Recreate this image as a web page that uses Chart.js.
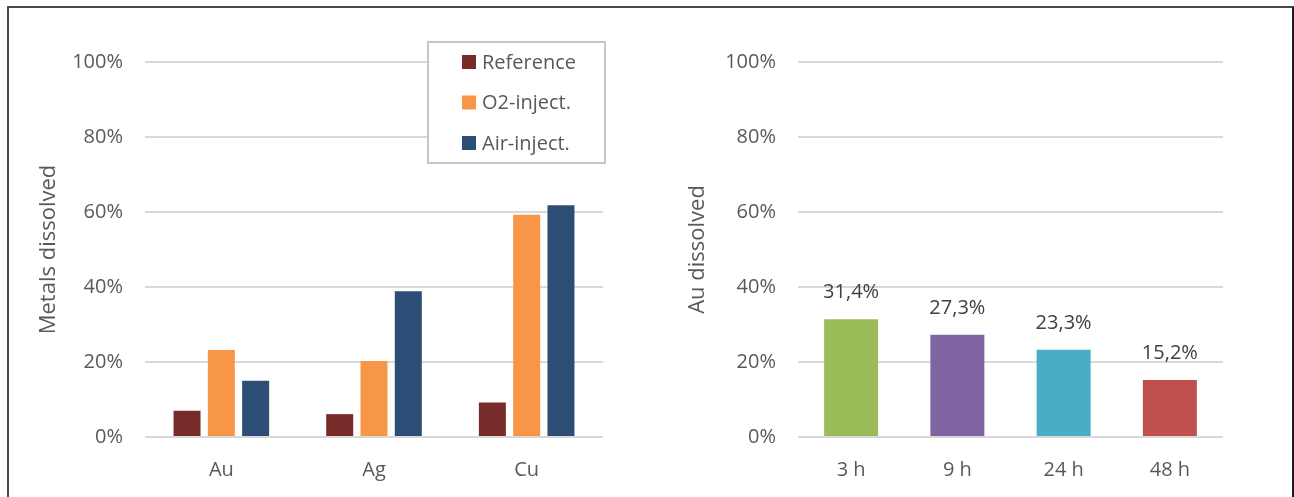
<!DOCTYPE html>
<html>
<head>
<meta charset="utf-8">
<script src="https://cdn.jsdelivr.net/npm/chart.js@4.4.0/dist/chart.umd.min.js"></script>
<style>
  html, body { margin: 0; padding: 0; background: #fff; overflow: hidden; }
  .frame {
    position: absolute; left: 7px; top: 6px; width: 1283px; height: 520px;
    border-top: 2px solid #4a4a4a; border-left: 2px solid #4a4a4a; border-right: 2px solid #1a1a1a;
  }
  #metals { position: absolute; left: 9px; top: 9px; }
  #gold { position: absolute; left: 650px; top: 9px; }
</style>
</head>
<body>
<div class="frame"></div>
<canvas id="metals" width="631" height="488"></canvas>
<canvas id="gold" width="642" height="488"></canvas>
<script>
// leaching results, in percent dissolved
const metals = ['Au', 'Ag', 'Cu'];
const reference = [7.0, 6.1, 9.2];
const o2Inject = [23.2, 20.3, 59.3];
const airInject = [15.0, 38.9, 61.8];

const times = ['3 h', '9 h', '24 h', '48 h'];
const auDissolved = [31.4, 27.3, 23.3, 15.2];
const timeColors = ['#9BBB59', '#8064A2', '#4BACC6', '#C0504D'];

const FONT = "'Open Sans', sans-serif";
const GREY = '#595959';

function percentAxis(title, titlePad, axisWidth) {
    return {
        min: 0,
        max: 100,
        ticks: {
            stepSize: 20,
            padding: 22,
            color: GREY,
            font: { family: FONT, size: 20 },
            callback: function (v) { return v + '%'; }
        },
        grid: { color: '#D9D9D9', lineWidth: 2, drawTicks: false },
        border: { display: false },
        title: {
            display: true,
            text: title,
            color: GREY,
            font: { family: FONT, size: 22 },
            padding: { top: titlePad, bottom: 0 }
        },
        afterFit: function (scale) { scale.width = axisWidth; }
    };
}

function categoryAxis() {
    return {
        ticks: { padding: 13, color: GREY, font: { family: FONT, size: 20 } },
        grid: { display: false },
        border: { display: false },
        afterFit: function (scale) { scale.height = 60; }
    };
}

// boxed legend sitting inside the plot, top right
const boxedLegend = {
    id: 'boxedLegend',
    afterDraw(chart) {
        const ctx = chart.ctx;
        const area = chart.chartArea;
        const x = area.right - 175, y = area.top - 20, w = 177, h = 121;
        ctx.save();
        ctx.fillStyle = '#fff';
        ctx.fillRect(x, y, w, h);
        ctx.strokeStyle = '#C6C6C6';
        ctx.lineWidth = 2;
        ctx.strokeRect(x, y, w, h);
        ctx.font = '20px ' + FONT;
        ctx.textBaseline = 'middle';
        chart.data.datasets.forEach(function (ds, i) {
            const cy = y + 20 + i * 40.5;
            ctx.fillStyle = ds.backgroundColor;
            ctx.fillRect(x + 34, cy - 7, 14, 14);
            ctx.fillStyle = GREY;
            ctx.fillText(ds.label, x + 54, cy + 1);
        });
        ctx.restore();
    }
};

// value labels above each bar, decimal comma
const valueLabels = {
    id: 'valueLabels',
    afterDatasetsDraw(chart) {
        const ctx = chart.ctx;
        ctx.save();
        ctx.font = '20px ' + FONT;
        ctx.fillStyle = '#404040';
        ctx.textAlign = 'center';
        ctx.textBaseline = 'alphabetic';
        chart.getDatasetMeta(0).data.forEach(function (bar, i) {
            const txt = auDissolved[i].toFixed(1).replace('.', ',') + '%';
            ctx.fillText(txt, bar.x, bar.y - 21);
        });
        ctx.restore();
    }
};

new Chart(document.getElementById('metals'), {
    type: 'bar',
    data: {
        labels: metals,
        datasets: [
            { label: 'Reference', data: reference, backgroundColor: '#772C2A' },
            { label: 'O2-inject.', data: o2Inject, backgroundColor: '#F79646' },
            { label: 'Air-inject.', data: airInject, backgroundColor: '#2C4D75' }
        ]
    },
    options: {
        responsive: false,
        animation: false,
        categoryPercentage: 0.674,
        barPercentage: 0.787,
        layout: { padding: { top: 53, right: 37, left: 0, bottom: 0 } },
        plugins: { legend: { display: false }, tooltip: { enabled: false } },
        scales: {
            x: categoryAxis(),
            y: percentAxis('Metals dissolved', 27, 136)
        }
    },
    plugins: [boxedLegend]
});

new Chart(document.getElementById('gold'), {
    type: 'bar',
    data: {
        labels: times,
        datasets: [{ label: 'Au dissolved', data: auDissolved, backgroundColor: timeColors }]
    },
    options: {
        responsive: false,
        animation: false,
        categoryPercentage: 0.8,
        barPercentage: 0.635,
        layout: { padding: { top: 53, right: 69, left: 0, bottom: 0 } },
        plugins: { legend: { display: false }, tooltip: { enabled: false } },
        scales: {
            x: categoryAxis(),
            y: percentAxis('Au dissolved', 35, 148)
        }
    },
    plugins: [valueLabels]
});
</script>
</body>
</html>
